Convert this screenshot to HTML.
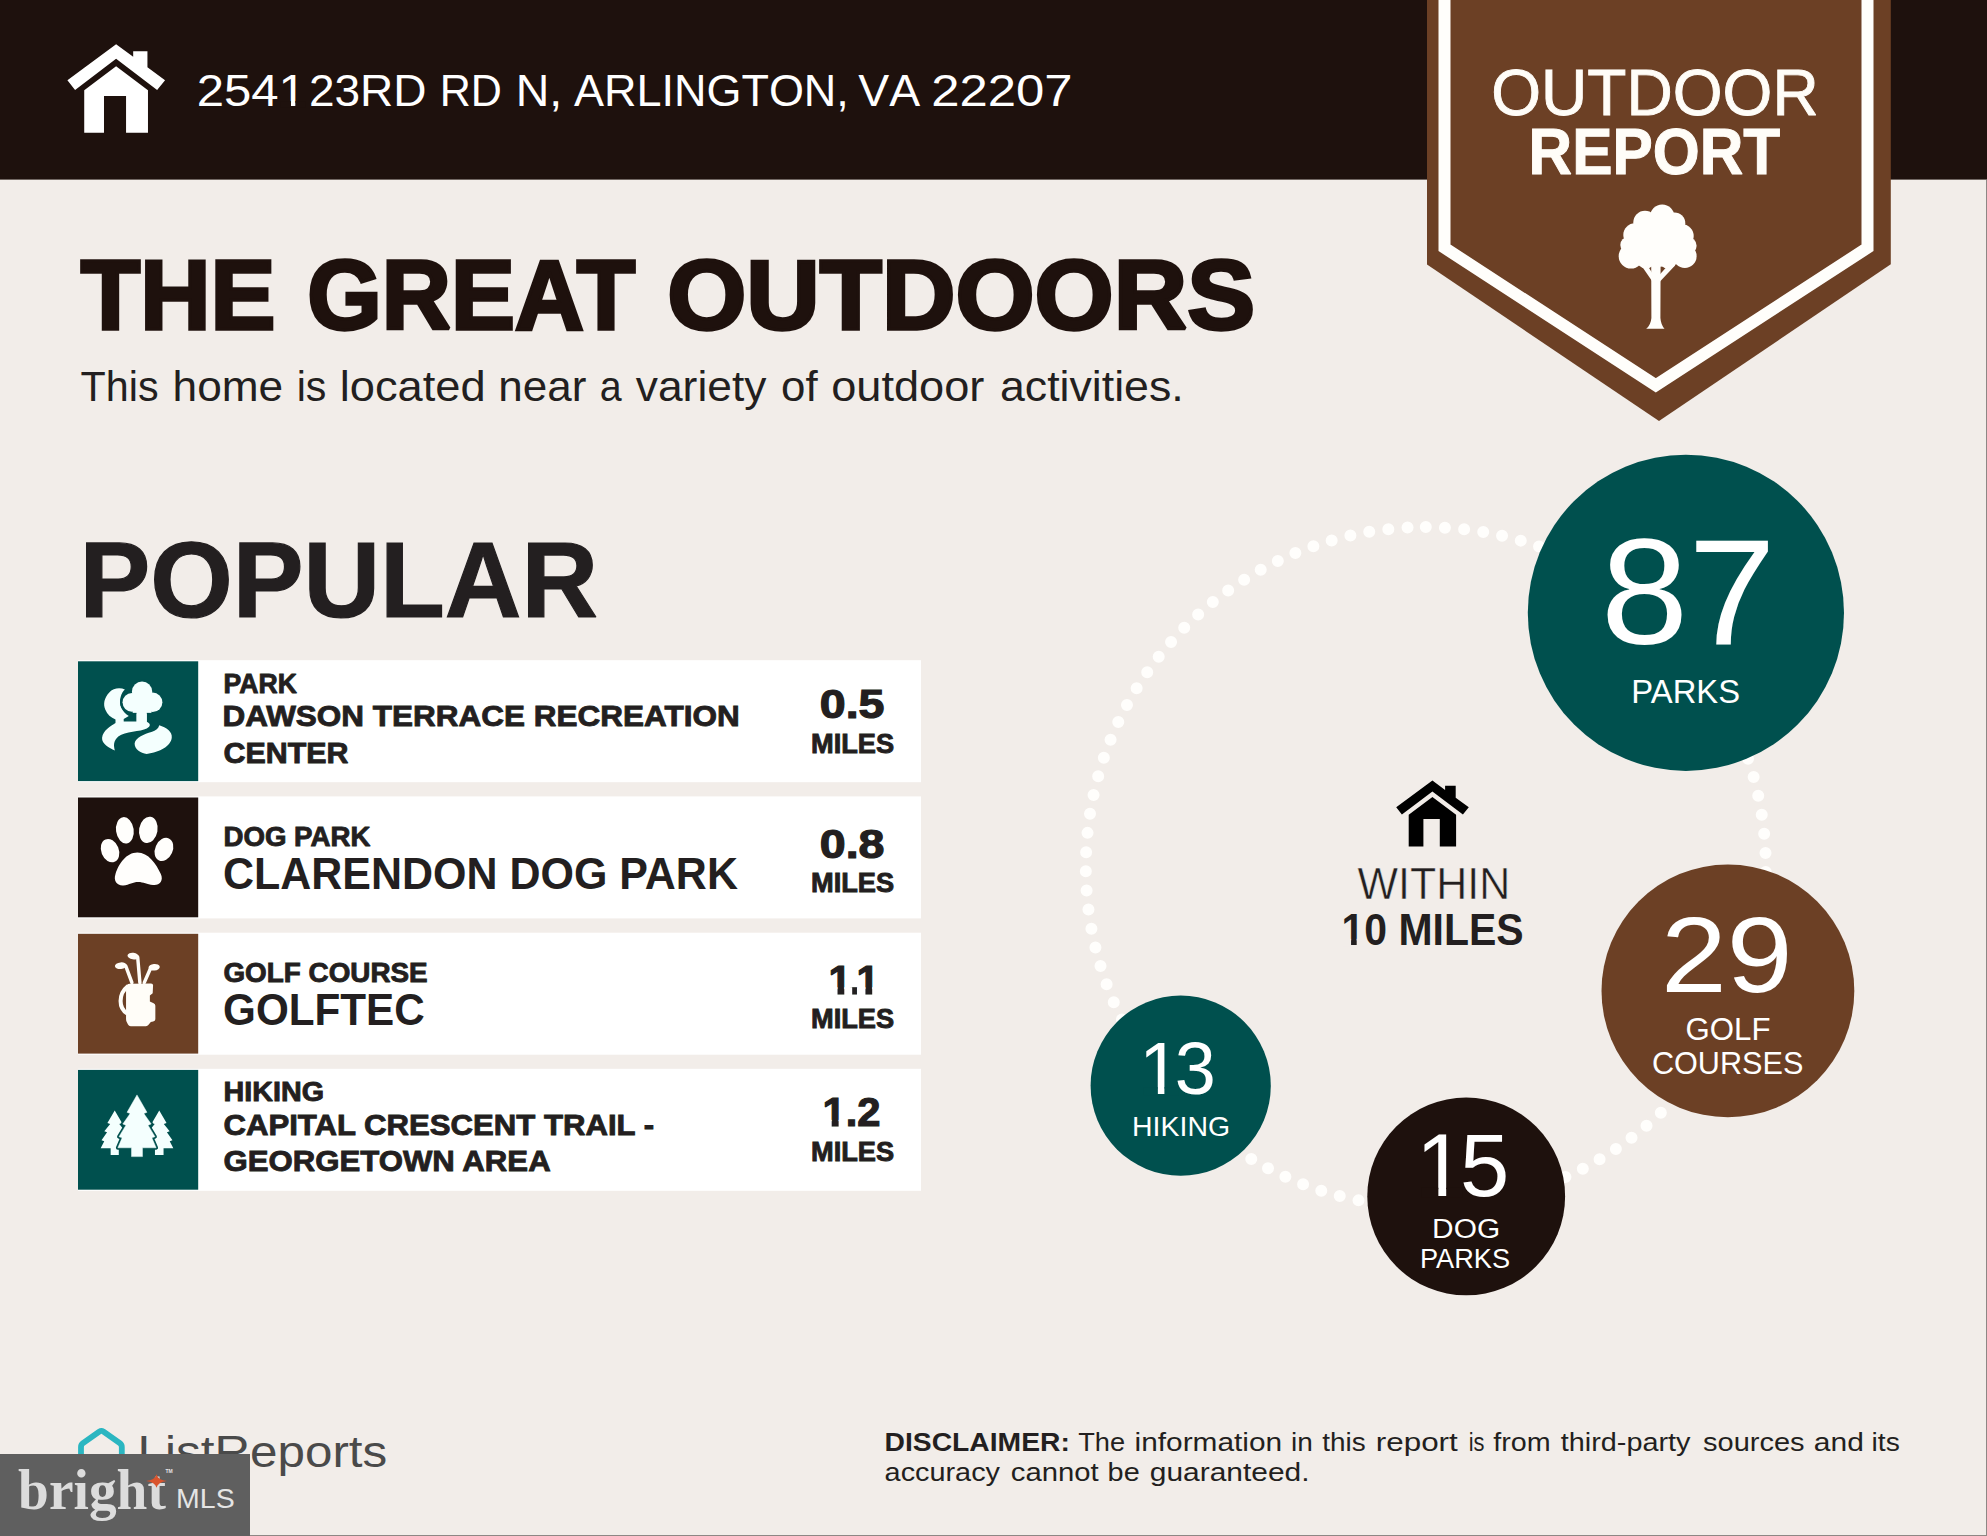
<!DOCTYPE html>
<html lang="en"><head><meta charset="utf-8"><title>Outdoor Report</title>
<style>
html,body{margin:0;padding:0;background:#f2ede9;}
body{width:1987px;height:1536px;overflow:hidden;position:relative;}
svg{display:block;position:absolute;left:0;top:0;}
.ss{font-family:"Liberation Sans",Arial,sans-serif;}
.sf{font-family:"Liberation Serif","Times New Roman",serif;}
text{white-space:pre;}
</style></head><body>
<svg width="1987" height="1536" viewBox="0 0 1987 1536">
<rect width="1987" height="1536" fill="#f2ede9"/>
<rect width="1987" height="179.6" fill="#1e110d"/>
<g transform="translate(116.1 44.2) scale(1.345)" fill="#ffffff">
<path d="M0,0 L12.7,9.4 L12.7,5.2 L23.3,5.2 L23.3,17.2 L36.4,26.8 L30.5,34 L0,10.9 L-30.5,34 L-36.2,26.8 Z"/>
<path d="M0,16.4 L23.7,34.2 L23.7,65.9 L7.4,65.9 L7.4,38.6 L-9,38.6 L-9,65.9 L-23.7,65.9 L-23.7,34.2 Z"/>
</g>
<!-- badge -->
<path d="M1427,0 L1890.8,0 L1890.8,264.2 L1659,421 L1427,264.6 Z" fill="#6c4025"/>
<path d="M1444.5,-10 L1444.5,247.8 L1655.8,385.3 L1867.5,247.8 L1867.5,-10" fill="none" stroke="#fffefb" stroke-width="12" stroke-linejoin="miter"/>
<g fill="#fffefb">
<circle cx="1662.2" cy="216.6" r="12.2"/><circle cx="1645" cy="222.4" r="11.7"/><circle cx="1674.5" cy="223.2" r="10.8"/>
<circle cx="1635" cy="235" r="11.7"/><circle cx="1682" cy="236" r="11.7"/>
<circle cx="1628.3" cy="245" r="8"/><circle cx="1687.8" cy="245.8" r="8.8"/>
<circle cx="1631" cy="256.2" r="12.3"/><circle cx="1684.8" cy="256.2" r="11.8"/>
<circle cx="1646" cy="259" r="9.5"/><circle cx="1668" cy="259" r="9.5"/>
<ellipse cx="1657.5" cy="243" rx="27" ry="24"/>
<path d="M1651.2,262 L1660.6,262 L1660.4,318 Q1661,325 1664.5,328.8 L1646.2,328.8 Q1650.8,325 1651.4,318 Z"/>
<path d="M1641,265 L1646,263 L1654,276 L1652,281 Z"/>
<path d="M1670,263 L1675,265.5 L1660,281.5 L1658.5,276 Z"/>
</g>
<!-- rows -->
<rect x="78" y="660.2" width="843" height="122" fill="#ffffff"/>
<rect x="78" y="661.3" width="120.2" height="119.8" fill="#00504e"/>
<g transform="translate(78 661.3)"><g transform="scale(0.078125)">
<path fill="#f4fffe" d="M600,360 C540,335 450,340 400,400 C335,470 320,550 350,620 C375,680 420,720 480,745 L480,790 C420,830 320,880 308,980 C302,1060 400,1110 472,1142 C455,1080 450,1020 520,960 C600,900 800,900 880,860 C935,830 930,800 880,775 L880,640 L750,640 L750,770 L585,770 L585,740 L650,700 C560,640 520,560 545,460 C555,410 580,380 600,360 Z"/>
<g fill="#00504e" stroke="#00504e" stroke-width="60"><circle cx="820" cy="390" r="130"/><circle cx="690" cy="525" r="120"/><circle cx="955" cy="525" r="125"/><rect x="700" y="450" width="240" height="190"/></g>
<g fill="#f4fffe"><circle cx="820" cy="390" r="130"/><circle cx="690" cy="525" r="120"/><circle cx="955" cy="525" r="125"/><rect x="700" y="450" width="240" height="210"/><rect x="750" y="600" width="130" height="200"/></g>
<path fill="#f4fffe" d="M1040,820 C1130,850 1210,900 1200,980 C1190,1080 1050,1170 880,1185 C800,1180 720,1120 725,1050 C735,980 850,930 940,905 C1000,885 1030,860 1040,820 Z"/>
</g></g>
<rect x="78" y="796.4" width="843" height="122" fill="#ffffff"/>
<rect x="78" y="797.5" width="120.2" height="119.8" fill="#1e110d"/>
<g transform="translate(78 797.5)"><g transform="scale(0.078125)" fill="#fffefc">
<ellipse cx="410" cy="680" rx="112" ry="155" transform="rotate(-22 410 680)"/>
<ellipse cx="600" cy="420" rx="113" ry="170" transform="rotate(-8 600 420)"/>
<ellipse cx="900" cy="415" rx="118" ry="170" transform="rotate(10 900 415)"/>
<ellipse cx="1100" cy="665" rx="112" ry="155" transform="rotate(24 1100 665)"/>
<path d="M760,705 C900,705 1000,850 1060,980 C1100,1070 1040,1130 960,1120 C880,1110 840,1080 770,1080 C700,1080 660,1115 580,1125 C500,1130 450,1070 480,980 C520,850 620,705 760,705 Z"/>
</g></g>
<rect x="78" y="932.7" width="843" height="122" fill="#ffffff"/>
<rect x="78" y="933.8" width="120.2" height="119.8" fill="#6c4025"/>
<g transform="translate(78 933.8)"><g transform="scale(0.078125)" fill="#fffdf8" stroke="#fffdf8">
<path stroke="none" d="M615,690 Q615,640 665,640 L935,635 Q962,635 961,660 L956,760 L920,790 L920,868 L968,888 Q990,898 990,920 L990,1095 Q988,1118 962,1124 L932,1130 L900,1168 Q890,1182 870,1182 L675,1182 Q650,1182 640,1160 L622,1125 Q615,1110 615,1090 Z"/>
<path fill="none" stroke-width="52" d="M640,668 C575,720 545,790 545,860 C545,940 580,990 630,1020"/>
<path fill="none" stroke-width="44" stroke-linecap="round" d="M690,625 L612,415 M792,625 L764,298 M848,625 L930,438"/>
<ellipse stroke="none" cx="548" cy="408" rx="76" ry="42" transform="rotate(-6 548 408)"/>
<ellipse stroke="none" cx="705" cy="285" rx="72" ry="42" transform="rotate(8 705 285)"/>
<ellipse stroke="none" cx="975" cy="428" rx="72" ry="42" transform="rotate(-6 975 428)"/>
</g></g>
<rect x="78" y="1068.8" width="843" height="122" fill="#ffffff"/>
<rect x="78" y="1069.9" width="120.2" height="119.8" fill="#00504e"/>
<g transform="translate(78 1069.9)"><g transform="scale(0.078125)" fill="#f4fffe" stroke-linejoin="round">
<path d="M470.0,520.0 L563.6,679.1 L528.4,692.3 L603.2,785.1 L568.0,798.3 L639.2,900.8 L604.0,914.0 L650.0,1002.0 L522.0,1002.0 L522.0,1090.0 L418.0,1090.0 L418.0,1002.0 L290.0,1002.0 L336.0,914.0 L300.8,900.8 L372.0,798.3 L336.8,785.1 L411.6,692.3 L376.4,679.1 Z"/><path d="M1040.0,520.0 L1133.6,679.1 L1098.4,692.3 L1173.2,785.1 L1138.0,798.3 L1209.2,900.8 L1174.0,914.0 L1220.0,1002.0 L1095.0,1002.0 L1095.0,1090.0 L985.0,1090.0 L985.0,1002.0 L860.0,1002.0 L906.0,914.0 L870.8,900.8 L942.0,798.3 L906.8,785.1 L981.6,692.3 L946.4,679.1 Z"/>
<path d="M755.0,320.0 L882.4,543.4 L842.4,558.4 L936.3,692.4 L896.3,707.4 L985.3,854.8 L945.3,869.8 L1000.0,997.0 L825.0,997.0 L825.0,1110.0 L685.0,1110.0 L685.0,997.0 L510.0,997.0 L564.7,869.8 L524.7,854.8 L613.7,707.4 L573.7,692.4 L667.6,558.4 L627.6,543.4 Z" stroke="#00504e" stroke-width="50"/>
<path d="M755.0,320.0 L882.4,543.4 L842.4,558.4 L936.3,692.4 L896.3,707.4 L985.3,854.8 L945.3,869.8 L1000.0,997.0 L825.0,997.0 L825.0,1110.0 L685.0,1110.0 L685.0,997.0 L510.0,997.0 L564.7,869.8 L524.7,854.8 L613.7,707.4 L573.7,692.4 L667.6,558.4 L627.6,543.4 Z" stroke="#f4fffe" stroke-width="6"/>
</g></g>

<!-- ring -->
<circle cx="1425.8" cy="867.1" r="340" fill="none" stroke="#fffefc" stroke-width="12" stroke-linecap="round" stroke-dasharray="0 19.2458" transform="rotate(-90 1425.8 867.1)"/>
<circle cx="1685.9" cy="612.8" r="158.1" fill="#00504e"/>
<circle cx="1727.9" cy="990.9" r="126.4" fill="#6c4025"/>
<circle cx="1180.7" cy="1085.7" r="90.1" fill="#00504e"/>
<circle cx="1466.2" cy="1196.4" r="98.9" fill="#1e110d"/>
<g transform="translate(1432.4 780.5) scale(1.0)" fill="#000000">
<path d="M0,0 L12.7,9.4 L12.7,5.2 L23.3,5.2 L23.3,17.2 L36.4,26.8 L30.5,34 L0,10.9 L-30.5,34 L-36.2,26.8 Z"/>
<path d="M0,16.4 L23.7,34.2 L23.7,65.9 L7.4,65.9 L7.4,38.6 L-9,38.6 L-9,65.9 L-23.7,65.9 L-23.7,34.2 Z"/>
</g>
<!-- ListReports logo -->
<path d="M81,1456 L81,1447 Q81,1444.6 83,1443.2 L99.3,1431.6 Q101.4,1430.2 103.5,1431.6 L119.8,1443.2 Q121.8,1444.6 121.8,1447 L121.8,1456" fill="none" stroke="#2bb6c1" stroke-width="5.8" stroke-linejoin="round"/>
<g transform="translate(196.63 106.10) scale(1.0904 1)"><text class="ss" style="font-kerning:none" font-size="45.06" font-weight="400" fill="#ffffff">2541</text><rect x="77.11" y="-4.97" width="9.40" height="6.17" fill="#1e110d"/><rect x="90.49" y="-4.97" width="9.05" height="6.17" fill="#1e110d"/></g>
<g transform="translate(308.88 106.10) scale(1.0219 1)"><text class="ss" style="font-kerning:none" font-size="45.06" font-weight="400" fill="#ffffff">23RD</text></g>
<g transform="translate(439.67 106.10) scale(0.9556 1)"><text class="ss" style="font-kerning:none" font-size="45.06" font-weight="400" fill="#ffffff">RD</text></g>
<g transform="translate(515.69 106.10) scale(1.0318 1)"><text class="ss" style="font-kerning:none" font-size="45.06" font-weight="400" fill="#ffffff">N,</text></g>
<g transform="translate(573.91 106.10) scale(0.9987 1)"><text class="ss" style="font-kerning:none" font-size="45.06" font-weight="400" fill="#ffffff">ARLINGTON,</text></g>
<g transform="translate(858.30 106.10) scale(1.0297 1)"><text class="ss" style="font-kerning:none" font-size="45.06" font-weight="400" fill="#ffffff">VA</text></g>
<g transform="translate(931.14 106.10) scale(1.1287 1)"><text class="ss" style="font-kerning:none" font-size="45.06" font-weight="400" fill="#ffffff">22207</text></g>
<text class="ss" transform="translate(80.70 328.80) scale(0.9980 1)" font-size="97.53" font-weight="700" fill="#1e110d" stroke="#1e110d" stroke-width="3.4" stroke-linejoin="miter" stroke-miterlimit="2">THE</text>
<text class="ss" transform="translate(307.37 328.80) scale(0.9818 1)" font-size="97.53" font-weight="700" fill="#1e110d" stroke="#1e110d" stroke-width="3.4" stroke-linejoin="miter" stroke-miterlimit="2">GREAT</text>
<text class="ss" transform="translate(667.13 328.80) scale(1.0433 1)" font-size="97.53" font-weight="700" fill="#1e110d" stroke="#1e110d" stroke-width="3.4" stroke-linejoin="miter" stroke-miterlimit="2">OUTDOORS</text>
<text class="ss" transform="translate(80.60 400.70) scale(0.9791 1)" font-size="42.15" font-weight="400" fill="#231f20">This</text>
<text class="ss" transform="translate(172.60 400.70) scale(1.0493 1)" font-size="42.15" font-weight="400" fill="#231f20">home</text>
<text class="ss" transform="translate(296.65 400.70) scale(0.9758 1)" font-size="42.15" font-weight="400" fill="#231f20">is</text>
<text class="ss" transform="translate(339.75 400.70) scale(1.0742 1)" font-size="42.15" font-weight="400" fill="#231f20">located</text>
<text class="ss" transform="translate(498.21 400.70) scale(1.0448 1)" font-size="42.15" font-weight="400" fill="#231f20">near</text>
<text class="ss" transform="translate(599.77 400.70) scale(0.9348 1)" font-size="42.15" font-weight="400" fill="#231f20">a</text>
<text class="ss" transform="translate(635.80 400.70) scale(1.0520 1)" font-size="42.15" font-weight="400" fill="#231f20">variety</text>
<text class="ss" transform="translate(781.06 400.70) scale(1.0396 1)" font-size="42.15" font-weight="400" fill="#231f20">of</text>
<text class="ss" transform="translate(831.23 400.70) scale(1.0712 1)" font-size="42.15" font-weight="400" fill="#231f20">outdoor</text>
<text class="ss" transform="translate(999.94 400.70) scale(1.0606 1)" font-size="42.15" font-weight="400" fill="#231f20">activities.</text>
<text class="ss" transform="translate(79.40 616.60) scale(0.9862 1)" font-size="107.56" font-weight="700" fill="#231f20" stroke="#231f20" stroke-width="1.2" stroke-linejoin="miter" stroke-miterlimit="2">POPULAR</text>
<text class="ss" transform="translate(223.59 692.95) scale(0.9635 1)" font-size="27.62" font-weight="700" fill="#231f20" stroke="#231f20" stroke-width="0.9" stroke-linejoin="miter" stroke-miterlimit="2">PARK</text>
<text class="ss" transform="translate(222.38 726.45) scale(1.0371 1)" font-size="30.38" font-weight="700" fill="#231f20" stroke="#231f20" stroke-width="0.9" stroke-linejoin="miter" stroke-miterlimit="2">DAWSON TERRACE RECREATION</text>
<text class="ss" transform="translate(223.45 762.65) scale(1.0017 1)" font-size="30.38" font-weight="700" fill="#231f20" stroke="#231f20" stroke-width="0.9" stroke-linejoin="miter" stroke-miterlimit="2">CENTER</text>
<text class="ss" transform="translate(819.77 718.30) scale(1.1279 1)" font-size="41.28" font-weight="700" fill="#231f20" stroke="#231f20" stroke-width="1.2" stroke-linejoin="miter" stroke-miterlimit="2">0.5</text>
<text class="ss" transform="translate(810.97 752.55) scale(0.9758 1)" font-size="27.91" font-weight="700" fill="#231f20" stroke="#231f20" stroke-width="0.9" stroke-linejoin="miter" stroke-miterlimit="2">MILES</text>
<text class="ss" transform="translate(223.46 845.95) scale(0.9912 1)" font-size="27.91" font-weight="700" fill="#231f20" stroke="#231f20" stroke-width="0.9" stroke-linejoin="miter" stroke-miterlimit="2">DOG PARK</text>
<text class="ss" transform="translate(223.02 888.50) scale(0.9790 1)" font-size="43.90" font-weight="700" fill="#231f20">CLARENDON DOG PARK</text>
<text class="ss" transform="translate(819.77 857.50) scale(1.1279 1)" font-size="41.28" font-weight="700" fill="#231f20" stroke="#231f20" stroke-width="1.2" stroke-linejoin="miter" stroke-miterlimit="2">0.8</text>
<text class="ss" transform="translate(810.97 891.95) scale(0.9758 1)" font-size="27.91" font-weight="700" fill="#231f20" stroke="#231f20" stroke-width="0.9" stroke-linejoin="miter" stroke-miterlimit="2">MILES</text>
<text class="ss" transform="translate(223.45 981.55) scale(0.9979 1)" font-size="27.91" font-weight="700" fill="#231f20" stroke="#231f20" stroke-width="0.9" stroke-linejoin="miter" stroke-miterlimit="2">GOLF COURSE</text>
<text class="ss" transform="translate(223.04 1024.70) scale(0.9619 1)" font-size="43.90" font-weight="700" fill="#231f20">GOLFTEC</text>
<g transform="translate(828.60 993.60) scale(0.9800 1)"><text class="ss" style="font-kerning:none" font-size="41.57" font-weight="700" fill="#231f20" stroke="#231f20" stroke-width="1.2" stroke-linejoin="miter" stroke-miterlimit="2" letter-spacing="-3.09">1.1</text><rect x="0.52" y="-6.44" width="8.58" height="8.24" fill="#ffffff"/><rect x="16.01" y="-6.44" width="8.06" height="8.24" fill="#ffffff"/><rect x="29.00" y="-6.44" width="8.58" height="8.24" fill="#ffffff"/><rect x="44.49" y="-6.44" width="8.06" height="8.24" fill="#ffffff"/></g>
<text class="ss" transform="translate(810.97 1027.55) scale(0.9758 1)" font-size="27.91" font-weight="700" fill="#231f20" stroke="#231f20" stroke-width="0.9" stroke-linejoin="miter" stroke-miterlimit="2">MILES</text>
<text class="ss" transform="translate(223.42 1100.75) scale(1.0303 1)" font-size="27.91" font-weight="700" fill="#231f20" stroke="#231f20" stroke-width="0.9" stroke-linejoin="miter" stroke-miterlimit="2">HIKING</text>
<text class="ss" transform="translate(223.43 1134.75) scale(1.0249 1)" font-size="30.38" font-weight="700" fill="#231f20" stroke="#231f20" stroke-width="0.9" stroke-linejoin="miter" stroke-miterlimit="2">CAPITAL CRESCENT TRAIL -</text>
<text class="ss" transform="translate(223.42 1170.55) scale(1.0264 1)" font-size="30.38" font-weight="700" fill="#231f20" stroke="#231f20" stroke-width="0.9" stroke-linejoin="miter" stroke-miterlimit="2">GEORGETOWN AREA</text>
<g transform="translate(822.55 1126.30) scale(1.0040 1)"><text class="ss" style="font-kerning:none" font-size="41.57" font-weight="700" fill="#231f20" stroke="#231f20" stroke-width="1.2" stroke-linejoin="miter" stroke-miterlimit="2">1.2</text><rect x="0.52" y="-6.44" width="8.58" height="8.24" fill="#ffffff"/><rect x="16.01" y="-6.44" width="8.06" height="8.24" fill="#ffffff"/></g>
<text class="ss" transform="translate(810.97 1160.55) scale(0.9758 1)" font-size="27.91" font-weight="700" fill="#231f20" stroke="#231f20" stroke-width="0.9" stroke-linejoin="miter" stroke-miterlimit="2">MILES</text>
<text class="ss" transform="translate(1491.21 114.85) scale(0.9797 1)" font-size="65.41" font-weight="400" fill="#fffdf8" stroke="#fffdf8" stroke-width="0.9" stroke-linejoin="miter" stroke-miterlimit="2">OUTDOOR</text>
<text class="ss" transform="translate(1528.59 174.00) scale(0.9273 1)" font-size="65.12" font-weight="700" fill="#fffdf8" stroke="#fffdf8" stroke-width="1.0" stroke-linejoin="miter" stroke-miterlimit="2">REPORT</text>
<text class="ss" transform="translate(1600.82 643.50) scale(1.0462 1)" font-size="150.44" font-weight="400" fill="#ffffff">87</text>
<text class="ss" transform="translate(1631.34 703.20) scale(0.9811 1)" font-size="33.43" font-weight="400" fill="#ffffff">PARKS</text>
<text class="ss" transform="translate(1661.06 991.50) scale(1.1077 1)" font-size="106.83" font-weight="400" fill="#ffffff">29</text>
<text class="ss" transform="translate(1685.60 1040.20) scale(1.0029 1)" font-size="31.10" font-weight="400" fill="#ffffff">GOLF</text>
<text class="ss" transform="translate(1651.91 1074.20) scale(0.9853 1)" font-size="31.10" font-weight="400" fill="#ffffff">COURSES</text>
<g transform="translate(1139.30 1094.40) scale(1.0000 1)"><text class="ss" style="font-kerning:none" font-size="73.84" font-weight="400" fill="#ffffff" letter-spacing="-5.58">13</text><rect x="4.12" y="-7.12" width="14.44" height="8.32" fill="#00504e"/><rect x="25.09" y="-7.12" width="13.87" height="8.32" fill="#00504e"/></g>
<text class="ss" transform="translate(1132.07 1135.70) scale(1.0151 1)" font-size="28.05" font-weight="400" fill="#ffffff">HIKING</text>
<g transform="translate(1416.07 1196.00) scale(1.0000 1)"><text class="ss" style="font-kerning:none" font-size="88.66" font-weight="400" fill="#ffffff" letter-spacing="-5.27">15</text><rect x="5.25" y="-8.22" width="17.04" height="9.42" fill="#1e110d"/><rect x="30.13" y="-8.22" width="16.35" height="9.42" fill="#1e110d"/></g>
<text class="ss" transform="translate(1432.09 1237.60) scale(1.1056 1)" font-size="27.03" font-weight="400" fill="#ffffff">DOG</text>
<text class="ss" transform="translate(1420.03 1267.70) scale(0.9839 1)" font-size="27.62" font-weight="400" fill="#ffffff">PARKS</text>
<text class="ss" transform="translate(1357.60 898.80) scale(0.9843 1)" font-size="43.60" font-weight="400" fill="#231f20" stroke="#f2ede9" stroke-width="0.5" stroke-linejoin="round">WITHIN</text>
<g transform="translate(1341.50 944.90) scale(0.9337 1)"><text class="ss" style="font-kerning:none" font-size="43.90" font-weight="700" fill="#231f20">10 MILES</text><rect x="1.26" y="-6.08" width="8.98" height="7.28" fill="#f2ede9"/><rect x="16.27" y="-6.08" width="8.42" height="7.28" fill="#f2ede9"/></g>
<text class="ss" transform="translate(137.61 1467.40) scale(1.0954 1)" font-size="45.06" font-weight="400" fill="#4a4a4a">ListReports</text>
<text class="ss" transform="translate(884.52 1450.70) scale(1.0753 1)" font-size="26.31" font-weight="700" fill="#231f20">DISCLAIMER:</text>
<text class="ss" transform="translate(1078.20 1450.70) scale(1.0361 1)" font-size="26.31" font-weight="400" fill="#231f20">The</text>
<text class="ss" transform="translate(1134.57 1450.70) scale(1.1345 1)" font-size="26.31" font-weight="400" fill="#231f20">information</text>
<text class="ss" transform="translate(1290.94 1450.70) scale(1.0649 1)" font-size="26.31" font-weight="400" fill="#231f20">in</text>
<text class="ss" transform="translate(1322.30 1450.70) scale(1.0620 1)" font-size="26.31" font-weight="400" fill="#231f20">this</text>
<text class="ss" transform="translate(1375.81 1450.70) scale(1.1932 1)" font-size="26.31" font-weight="400" fill="#231f20">report</text>
<text class="ss" transform="translate(1468.77 1450.70) scale(0.8295 1)" font-size="26.31" font-weight="400" fill="#231f20">is</text>
<text class="ss" transform="translate(1493.30 1450.70) scale(1.0912 1)" font-size="26.31" font-weight="400" fill="#231f20">from</text>
<text class="ss" transform="translate(1560.80 1450.70) scale(1.0954 1)" font-size="26.31" font-weight="400" fill="#231f20">third-party</text>
<text class="ss" transform="translate(1703.00 1450.70) scale(1.1030 1)" font-size="26.31" font-weight="400" fill="#231f20">sources</text>
<text class="ss" transform="translate(1813.86 1450.70) scale(1.1394 1)" font-size="26.31" font-weight="400" fill="#231f20">and</text>
<text class="ss" transform="translate(1871.53 1450.70) scale(1.0736 1)" font-size="26.31" font-weight="400" fill="#231f20">its</text>
<text class="ss" transform="translate(884.60 1481.30) scale(1.0963 1)" font-size="26.31" font-weight="400" fill="#231f20">accuracy</text>
<text class="ss" transform="translate(1010.79 1481.30) scale(1.1125 1)" font-size="26.31" font-weight="400" fill="#231f20">cannot</text>
<text class="ss" transform="translate(1107.60 1481.30) scale(1.0968 1)" font-size="26.31" font-weight="400" fill="#231f20">be</text>
<text class="ss" transform="translate(1149.76 1481.30) scale(1.1382 1)" font-size="26.31" font-weight="400" fill="#231f20">guaranteed.</text>
<!-- bright MLS overlay -->
<rect x="0" y="1454" width="250" height="82" fill="#5f5f5f"/>
<text class="sf" transform="translate(18.10 1508.60) scale(0.9808 1)" font-size="56.48" font-weight="700" fill="#dcdcdc">bright</text>
<text class="ss" transform="translate(176.10 1508.20) scale(1.0484 1)" font-size="27.18" font-weight="400" fill="#e4e4e4">MLS</text>
<path d="M156.5,1474.2 Q157.8,1480 167,1481 Q157.8,1482 156.5,1487.8 Q155.2,1482 146,1481 Q155.2,1480 156.5,1474.2 Z" fill="#d9532c"/>
<text class="ss" x="165.5" y="1472.9" font-size="5" font-weight="700" fill="#e6e6e6">TM</text>
<!-- edge lines -->
<rect x="250" y="1535" width="1737" height="1" fill="#8d8784"/>
<rect x="1986" y="180" width="1" height="1356" fill="#8d8784"/>
</svg>
</body></html>
